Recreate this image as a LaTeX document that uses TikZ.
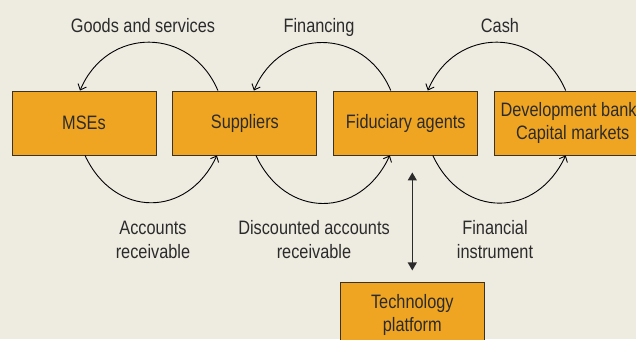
\documentclass[tikz,border=0pt]{standalone}
\usepackage{fontspec}
\setmainfont{Liberation Sans}[FakeStretch=0.84]
\usepackage{tikz}
\usetikzlibrary{arrows.meta,positioning}
\definecolor{cbg}{HTML}{EEEBE1}
\definecolor{cbox}{HTML}{F0A522}
\definecolor{cboxD}{HTML}{3B3222}
\definecolor{ctxt}{HTML}{2B2B2B}
\tikzset{
  orgbox/.style={draw=cboxD, fill=cbox, text=ctxt, line width=0.9pt, align=center,
                 minimum width=144bp, minimum height=64bp, inner sep=0pt,
                 font=\fontsize{19.5}{23.5}\selectfont},
  lbl/.style={text=ctxt, align=center, inner sep=0pt, font=\fontsize{19.5}{24}\selectfont},
  flow/.style={-{Straight Barb[length=5bp,width=9bp]}, line width=0.9pt, black},
  link/.style={{Triangle[length=8bp,width=9bp]}-{Triangle[length=8bp,width=9bp]},
               line width=1.2pt, ctxt},
}
\begin{document}
\begin{tikzpicture}[x=1bp, y=1bp, node distance=16bp]
  \useasboundingbox (0,0) rectangle (636,339);
  \clip (0,0) rectangle (636,339);
  \fill[cbg] (0,0) rectangle (636,339);
  % boxes
  \node[orgbox] (mse) at (84,216) {MSEs};
  \node[orgbox, right=of mse] (sup) {Suppliers};
  \node[orgbox, right=of sup] (fid) {Fiduciary agents};
  \node[orgbox, right=of fid, minimum width=156bp] (dev) {Development banks\\Capital markets};
  \node[orgbox, below=127bp of fid, xshift=6.5bp] (tech) {Technology\\platform};
  % flows above
  \draw[flow] ([xshift=-27bp]sup.north) to[out=113, in=67, looseness=1.3] ([xshift=-4bp]mse.north);
  \draw[flow] ([xshift=-15bp]fid.north) to[out=113, in=67, looseness=1.3] ([xshift=9bp]sup.north);
  \draw[flow] ([xshift=-7bp]dev.north) to[out=113, in=67, looseness=1.3] ([xshift=22bp]fid.north);
  % flows below
  \draw[flow] ([xshift=1bp]mse.south) to[out=-65, in=-115, looseness=1.35] ([xshift=-28bp]sup.south);
  \draw[flow] ([xshift=11bp]sup.south) to[out=-65, in=-115, looseness=1.35] ([xshift=-16bp]fid.south);
  \draw[flow] ([xshift=27bp]fid.south) to[out=-65, in=-115, looseness=1.35] ([xshift=-7bp]dev.south);
  \draw[link, shorten <=17bp, shorten >=12bp] (tech.north |- fid.south) -- (tech.north);
  % labels
  \node[lbl, anchor=base] (lgoods) at (143,307) {Goods and services};
  \node[lbl, anchor=base] (lfin) at (319,307) {Financing};
  \node[lbl, anchor=base] (lcash) at (500,307) {Cash};
  \node[lbl] (lacc) at (153,99) {Accounts\\receivable};
  \node[lbl] (ldisc) at (314,99) {Discounted accounts\\receivable};
  \node[lbl] (linst) at (495,99) {Financial\\instrument};
\end{tikzpicture}
\end{document}
